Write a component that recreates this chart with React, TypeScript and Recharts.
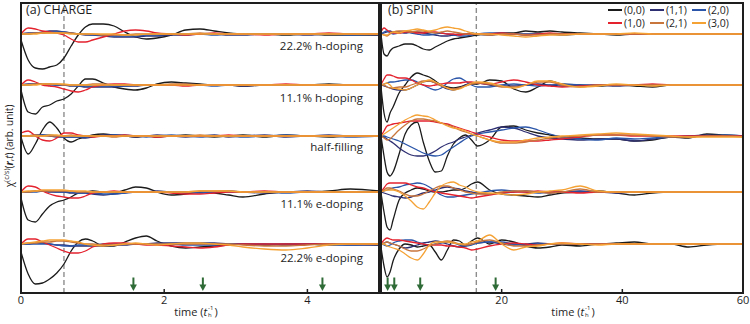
import React from 'react';
import { LineChart, Line, XAxis, YAxis, ReferenceLine, ReferenceDot } from 'recharts';

// sample times (t_h^-1)
const chargeTime = [0, 0.1, 0.2, 0.3, 0.4, 0.5, 0.6, 0.7, 0.8, 0.9, 1.0, 1.15, 1.3, 1.45, 1.6, 1.75, 1.9, 2.1, 2.3, 2.5, 2.7, 2.9, 3.1, 3.4, 3.7, 4.0, 4.3, 4.6, 5.0];
const spinTime = [0, 0.5, 1, 1.5, 2, 3, 4, 5, 6, 7, 8, 9, 10, 11, 12, 13, 14, 15, 16, 18, 20, 22, 24, 26, 28, 30, 33, 36, 39, 42, 45, 48, 51, 54, 57, 60];

const seriesNames = ['(0,0)', '(1,1)', '(2,0)', '(1,0)', '(2,1)', '(3,0)'];
const seriesColors = ['#1b1b1b', '#2e2f72', '#2a55a8', '#e4222e', '#c9763c', '#f5a235'];

const dopingLabels = ['22.2% h-doping', '11.1% h-doping', 'half-filling', '11.1% e-doping', '22.2% e-doping'];
// vertical shift of each doping curve (arb. unit)
const traceOffsets = [259, 208, 157, 101, 49];

// rows: (0,0) (1,1) (2,0) (1,0) (2,1) (3,0)
const chargeH22 = [
  [-6, -26, -34, -35, -33, -31, -24, -12, -1, 7, 10, 10, 8, 2, -3, -5, -4, -1, 4, 5, 3, 1, 0, 0, -1, 0, -1, -1, -1],
  [0, 1, 1, 2, 3, 3, 2, 1, 0, -1, -1, -2, -3, -3, -3, -2, -2, -1, -1, 0, 0, -1, -1, 0, 0, -1, 0, 0, -1],
  [0, 0, 1, 1, 2, 2, 2, 1, 0, 0, -1, -1, -2, -2, -2, -1, -1, 0, 0, 0, -1, 0, 0, 0, 0, 0, 0, -1, 0],
  [0, 6, 5, 3, 2, 1, -1, -5, -8, -8, -6, -3, 0, 3, 4, 3, 1, 0, -1, 0, 1, 0, 0, -1, 0, 0, 1, 0, 0],
  [0, 0, 1, 1, 1, 1, 1, 1, 0, 0, 0, -1, -1, -1, 0, 0, 0, 0, 0, 1, 0, 0, 0, 0, 0, 0, 0, 0, 0],
  [0, 0, 0, 1, 1, 1, 1, 0, 0, 0, 0, 0, 0, -1, -1, 0, 0, 0, 0, 0, 0, 0, 0, 0, 0, 0, 0, 0, 0],
];
const chargeH11 = [
  [-5, -27, -29, -22, -20, -16, -14, -9, -1, 6, 6, 2, -2, -4, -5, -3, 1, 3, 2, 1, 0, 0, -1, 0, 0, 0, 1, 0, 0],
  [0, 1, 1, 1, 1, 0, 0, -1, -1, -2, -2, -2, -2, -1, -1, 0, 0, 0, 1, 0, 0, 0, -1, 0, 0, 0, 0, 0, 0],
  [0, 0, 1, 1, 0, 0, 0, 0, -1, -1, -1, -1, -1, -1, 0, 0, 0, 0, 0, 0, -1, 0, 0, 0, 0, 0, 0, 0, 0],
  [0, 5, 3, 0, -1, -2, -4, -6, -7, -5, -2, 0, 1, 1, 0, 0, 0, 0, -1, 0, 0, 0, 0, 0, 1, 0, 0, 0, 0],
  [0, 0, 1, 1, 1, 1, 0, 0, 0, 0, 1, 1, 0, 0, 0, 0, 0, 1, 1, 0, 0, 0, 0, 0, 0, 0, 0, 0, 0],
  [0, 0, 0, 1, 1, 1, 1, 0, 0, 0, 0, 0, 0, 0, 0, 0, 0, 0, 0, 0, 0, 0, 0, 0, 0, 0, 0, 0, 0],
];
const chargeHalf = [
  [-1, -18, -8, 6, 14, 8, -2, -6, -3, -1, 1, 2, 1, 0, -1, 0, -1, 0, 1, 0, -1, 0, 1, -1, 1, 0, -1, 0, 0],
  [0, 0, 1, 1, 0, -1, -1, -1, -1, -2, -1, 1, 1, 0, -1, 0, 1, 0, -1, 0, 1, -1, 0, 1, -1, 0, 1, 0, 0],
  [0, 0, 0, 1, 1, 0, -1, -1, -1, -1, 0, 0, 1, 1, 0, -1, 0, 1, 0, -1, 0, 0, -1, 0, 1, 0, 0, -1, 0],
  [3, 5, 0, -4, -5, -2, 3, 3, 1, 0, -1, 0, 0, 1, 0, 0, -1, 0, 0, 0, 0, 1, 0, 0, 0, 0, 0, 0, 0],
  [0, 0, 1, 0, 0, 0, 0, 1, 0, 0, 0, 0, -1, 0, 0, 0, 0, 0, 0, 1, 0, 0, 0, 0, 0, 0, 0, 0, 0],
  [0, 0, 0, 0, 1, 1, 0, 0, 0, 0, 0, 0, 0, 0, 0, 0, 0, 0, 0, 0, 0, 0, 0, 0, 0, 0, 0, 0, 0],
];
const chargeE11 = [
  [-6, -28, -30, -22, -14, -10, -8, -5, -1, 0, 1, 0, -1, 2, 5, 4, 0, -3, -2, 0, -1, -3, -5, -2, 0, 0, 1, 3, 1],
  [0, 0, 1, 1, 0, 0, 0, -1, -1, -1, -2, -3, -2, -1, 0, 0, 1, 0, -1, 0, 0, 1, 0, -1, 0, 1, 0, 0, 0],
  [0, 0, 0, 1, 1, 0, 0, 0, -1, -1, -1, -2, -2, -1, 0, 0, 0, 0, 0, -1, 0, 0, 0, 0, -1, 0, 0, 0, 0],
  [0, 6, 5, 1, -2, -4, -5, -6, -6, -4, -1, 0, 1, 0, 0, 0, 0, -1, -2, -2, -1, 0, 0, 1, 0, 0, 0, 0, 0],
  [0, 0, 1, 1, 1, 1, 1, 1, 0, 0, 0, 0, 0, 0, 0, 0, 0, 0, 0, 1, 1, 1, 0, 0, 0, 0, 0, 0, 0],
  [0, 1, 1, 2, 2, 2, 2, 1, 1, 1, 0, 0, 0, 0, 0, 0, 0, 0, 0, 1, 1, 1, 0, 0, 0, 0, 0, 0, 0],
];
const chargeE22 = [
  [-8, -30, -40, -39, -35, -29, -20, -7, 2, 5, 3, -2, -2, 2, 6, 8, 3, -2, -4, -3, -2, -1, 0, -1, 0, 0, -1, 0, -1],
  [0, 0, 1, 1, 0, -1, -1, -2, -2, -2, -2, -2, -1, -1, 0, 0, 1, 1, 1, 1, 1, 0, 0, 0, -1, 0, 0, -1, -1],
  [0, 0, 0, 0, 0, -1, -2, -2, -1, -1, -1, 0, 0, 0, 0, 0, 0, 0, -1, -1, -1, 0, 0, 0, 0, 0, -1, -1, 0],
  [0, 5, 5, 2, -1, -4, -7, -9, -9, -7, -3, 0, 1, 1, 0, -1, -1, -2, -3, -4, -3, -1, 0, 0, 0, 0, 0, 0, 0],
  [0, 1, 1, 2, 2, 3, 3, 2, 1, 0, 0, -1, -1, 0, 0, 0, 0, 0, 0, 0, 0, 0, -1, -2, -2, -1, 0, 0, 0],
  [0, 1, 2, 3, 4, 4, 4, 3, 2, 0, -1, -2, -1, 0, 1, 0, -1, 0, 1, 1, 0, -1, -3, -5, -6, -4, -1, 0, 0],
];

const spinH22 = [
  [0, -20, -22, -17, -14, -12, -10, -10, -12, -15, -16, -13, -10, -7, -5, -4, -3, -2, -1, 0, 1, 1, 3, 2, 3, 2, 1, 0, -1, 0, 0, 0, 0, 0, 0, 0],
  [0, 1, 2, 3, 2, 2, 1, 2, 2, 1, 0, -1, -2, -2, -1, 0, 0, 1, 0, -1, 0, 0, 0, 0, 0, -1, 0, 0, 0, 0, 0, 0, 0, 0, 0, 0],
  [0, 2, 3, 1, 0, 1, 2, 1, 0, -1, -1, 0, 1, 0, -1, -2, -2, -1, 0, 1, 1, 0, -1, 0, 0, 0, 0, 0, 0, 0, 0, 0, 0, 0, 0, 0],
  [2, 6, 4, 2, 1, 1, 2, 2, 1, 1, 2, 2, 1, 0, 0, -1, 0, 0, 0, 0, 1, 0, -1, 0, 1, 0, 0, 0, 0, 0, 0, 0, 0, 0, 0, 0],
  [0, -1, -2, 0, 2, 3, 3, 2, 3, 3, 2, 1, 2, 3, 2, 1, 0, 0, 0, -1, 0, 0, -1, -1, 0, 0, 0, 0, 0, 0, 0, 0, 0, 0, 0, 0],
  [0, -1, -1, 1, 2, 1, 3, 4, 5, 4, 3, 4, 6, 7, 6, 5, 3, 1, 0, 0, -1, -2, -3, -2, -1, -1, 0, 0, 0, 1, 0, 0, 0, 0, 0, 0],
];
const spinH11 = [
  [-2, -28, -37, -28, -22, -8, 0, 8, 12, 10, 8, 4, 0, -2, -3, -2, 0, 1, 1, 5, 4, -4, -7, -2, 4, 1, 0, -1, 0, -1, -2, 0, 0, 0, 0, 0],
  [0, -1, -2, -3, -4, -5, -5, -3, 0, 3, 4, 2, -1, -4, -5, -3, 0, 2, 2, 0, -1, -1, 0, 1, 0, -1, -1, 0, -1, 0, 0, 0, 0, 0, 0, 0],
  [0, 1, 2, 3, 3, 4, 5, 5, 3, 0, -3, -5, -3, 2, 6, 7, 4, 0, -2, -2, 0, 1, 0, -1, 0, 1, 0, 0, 0, 0, 0, 0, 0, 0, 0, 0],
  [0, 6, 10, 10, 9, 7, 7, 5, 2, 0, -1, 0, 1, 2, 2, 2, 3, 3, 2, 1, 3, 5, 3, 0, -1, -2, -1, 0, 0, 0, 1, 0, 0, 0, 0, 0],
  [0, 0, -2, -3, -3, -2, -2, 0, 2, 4, 4, 2, -1, -3, -4, -3, -1, 1, 2, 1, -2, -2, 0, 3, 3, 0, -2, 0, 0, 0, 0, 0, 0, 0, 0, 0],
  [0, 1, 2, 0, -3, -4, -5, -3, 0, 3, 5, 3, 0, -3, -5, -4, -1, 2, 3, 2, -1, -3, 0, 4, 4, 1, -2, -1, 1, 0, -1, 0, 0, 0, 0, 0],
];
const spinHalf = [
  [0, -20, -36, -40, -36, -18, 2, 11, 14, -6, -25, -36, -35, -20, -8, -2, 1, -4, -10, -4, 9, 10, 6, 3, 1, -1, -2, -3, -3, -5, -4, -1, -2, 2, 1, 0],
  [0, -1, -3, -5, -7, -12, -16, -19, -20, -20, -18, -15, -11, -8, -6, -3, -1, 1, 3, 6, 9, 8, 4, 0, -2, -3, -4, -3, -3, -5, -3, -1, 0, 1, 0, 0],
  [0, 0, -1, -2, -3, -5, -8, -11, -14, -17, -19, -20, -19, -15, -11, -7, -3, 0, 2, 4, 6, 8, 9, 6, 2, -1, -3, -4, -2, -3, -2, -1, 0, 0, 1, 0],
  [0, 5, 10, 11, 12, 13, 14, 15, 15, 15, 15, 14, 13, 12, 10, 8, 6, 4, 2, -1, -4, -5, -5, -5, -4, -3, -1, 1, 1, 0, 0, 0, 0, 0, 0, 0],
  [0, -2, -4, -3, 0, 6, 11, 15, 17, 17, 16, 15, 13, 11, 9, 6, 4, 2, 0, -4, -7, -7, -6, -4, -2, -1, 0, 1, 1, 1, 0, -1, -1, 0, 0, -1],
  [0, 2, 4, 6, 8, 12, 16, 19, 21, 20, 19, 16, 13, 10, 8, 7, 5, 2, 0, -4, -6, -6, -4, -2, -1, 0, 1, 2, 3, 2, 1, 0, -1, -1, -1, -1],
];
const spinE11 = [
  [-1, -20, -35, -38, -28, -8, -1, 2, 4, 3, 1, 0, 0, 1, 2, 2, 4, 8, 10, 2, -2, -3, -4, -5, -3, -1, 0, 1, -1, -3, -1, 0, 0, 0, 0, 0],
  [0, -1, -2, -3, -4, -5, -6, -5, -3, -1, 0, 2, 4, 5, 4, 3, 1, 0, -1, -2, -1, 0, 1, 0, -1, 0, 1, 0, -1, 0, 0, 0, 0, 0, 0, 0],
  [0, 1, 2, 3, 4, 5, 7, 8, 9, 8, 5, 1, -3, -5, -5, -4, -3, -2, -1, 1, 2, 1, 0, -1, 0, 0, 0, 0, 0, 0, 0, 0, 0, 0, 0, 0],
  [0, 4, 8, 9, 9, 9, 9, 7, 5, 4, 2, 0, -1, -2, -3, -4, -5, -6, -5, -3, -1, 0, 0, 1, 0, 0, -1, 0, 0, 0, 0, 0, 0, 0, 0, 0],
  [0, 2, 4, 4, 3, 1, -2, -4, -4, -2, 1, 4, 6, 6, 4, 2, 0, -1, -2, -2, 0, 1, 1, 0, -1, 0, 3, 0, 0, 0, 0, 0, 0, 0, 0, 0],
  [0, 1, 2, 2, 2, 0, -4, -9, -15, -17, -10, -1, 6, 9, 10, 7, 5, 2, 0, -1, -2, -3, -2, 0, 1, 2, 6, 1, 0, 0, 0, 0, 0, 0, 0, 0],
];
const spinE22 = [
  [-3, -22, -33, -28, -17, -5, 0, -1, -3, -2, -1, -8, -16, -6, 4, 3, -1, 3, 6, 0, 4, 2, -2, -4, -3, -1, -2, 0, 1, 2, 0, 0, -3, -1, 0, 0],
  [0, 1, 2, 1, 0, -2, -4, -3, -1, 1, 2, 3, 2, 0, -2, -3, -2, 0, 1, 2, 0, -1, 0, 1, 0, 0, 0, 0, 0, 0, 0, 0, 0, 0, 0, 0],
  [0, -1, -2, -1, 1, 3, 4, 4, 2, 0, -1, 0, 1, 2, 1, -1, -2, -1, 1, 2, 2, 0, -1, 0, 0, 0, 0, 0, 0, 0, 0, 0, 0, 0, 0, 0],
  [0, 4, 6, 5, 4, 4, 3, 2, 1, 0, -1, -1, -1, -2, -2, -3, -4, -6, -5, -2, 0, 1, 0, -1, 0, 1, 0, 0, 0, 0, 0, 0, 0, 0, 0, 0],
  [0, 1, 2, 1, 0, -2, -5, -7, -7, -5, -2, 0, 2, 3, 2, 0, -1, 0, 2, 4, 1, -2, -2, -1, 0, 0, 0, 0, 0, 0, 0, 0, 0, 0, 0, 0],
  [0, 0, -2, -3, -4, -6, -10, -14, -16, -10, -1, 2, 2, 2, 1, 0, 0, 2, 3, 9, 0, -6, -3, -2, 0, 1, 0, -1, 0, 0, 0, 0, 0, 0, 0, 0],
];

const chargeTraces = [chargeH22, chargeH11, chargeHalf, chargeE11, chargeE22];
const spinTraces = [spinH22, spinH11, spinHalf, spinE11, spinE22];

const chargeTicks = [0, 2, 4];
const spinTicks = [0, 20, 40, 60];
const chargeArrows = [1.57, 2.54, 4.21];
const spinArrows = [1.1, 2.2, 6.5, 19];
const chargeCut = 0.6;
const spinCut = 15.8;

const FONT = '"Open Sans", "Noto Sans", sans-serif';
const INK = '#1e1e1e';

function buildRows(time: number[], traces: number[][][]) {
  return time.map((t, i) => {
    const row: Record<string, number> = { t };
    traces.forEach((trace, k) => {
      trace.forEach((vals, s) => {
        row[`k${k}s${s}`] = traceOffsets[k] + vals[i];
      });
    });
    return row;
  });
}

const Arrow = (props: any) => {
  const { cx, cy } = props;
  return (
    <g>
      <line x1={cx} y1={cy - 7} x2={cx} y2={cy + 1} stroke="#2f6b36" strokeWidth={2} />
      <path d={`M${cx - 3.5},${cy} L${cx + 3.5},${cy} L${cx},${cy + 6.5} Z`} fill="#2f6b36" />
    </g>
  );
};

interface PanelProps {
  width: number;
  margin: { top: number; right: number; bottom: number; left: number };
  time: number[];
  traces: number[][][];
  domain: [number, number];
  ticks: number[];
  cut: number;
  arrows: number[];
}

const Panel = ({ width, margin, time, traces, domain, ticks, cut, arrows }: PanelProps) => {
  const rows = buildRows(time, traces);
  return (
    <LineChart width={width} height={324} data={rows} margin={margin}>
      <XAxis
        xAxisId="top"
        orientation="top"
        dataKey="t"
        type="number"
        domain={domain}
        ticks={ticks}
        height={1}
        tick={false}
        tickSize={-4}
        axisLine={false}
        tickLine={{ stroke: INK, strokeWidth: 1.5 }}
      />
      <XAxis
        dataKey="t"
        type="number"
        domain={domain}
        ticks={ticks}
        height={31}
        tickSize={-4}
        tickMargin={7}
        axisLine={false}
        tickLine={{ stroke: INK, strokeWidth: 1.5 }}
        tick={{ fill: INK, fontSize: 11, fontFamily: FONT }}
      />
      <YAxis type="number" domain={[0, 290]} hide />
      <ReferenceLine x={cut} stroke="#8d8d8d" strokeDasharray="5 3" strokeWidth={1.4} />
      {traces.map((trace, k) =>
        trace.map((_, s) => (
          <Line
            key={`k${k}s${s}`}
            dataKey={`k${k}s${s}`}
            type="monotone"
            stroke={seriesColors[s]}
            strokeWidth={1.3}
            dot={false}
            isAnimationActive={false}
          />
        ))
      )}
      {arrows.map((a) => (
        <ReferenceDot key={a} x={a} y={8.5} r={0} shape={Arrow} />
      ))}
    </LineChart>
  );
};

const TimeLabel = ({ center }: { center: number }) => (
  <div
    style={{
      position: 'absolute',
      left: center,
      top: 305,
      transform: 'translateX(-50%)',
      fontSize: 11,
      whiteSpace: 'nowrap',
      color: INK,
      lineHeight: '14px',
      display: 'flex',
      alignItems: 'center',
    }}
  >
    <span>time (</span>
    <i>t</i>
    <span style={{ display: 'inline-flex', flexDirection: 'column', fontSize: 6, lineHeight: '7px', margin: '0 1px' }}>
      <span>-1</span>
      <span>h</span>
    </span>
    <span>)</span>
  </div>
);

export default function App() {
  return (
    <div style={{ position: 'absolute', left: 0, top: 0, width: 750, height: 324, fontFamily: FONT, background: '#fff' }}>
      <div style={{ position: 'absolute', left: 0, top: 0 }}>
        <Panel
          width={380}
          margin={{ top: 2, right: 1, bottom: 0, left: 21 }}
          time={chargeTime}
          traces={chargeTraces}
          domain={[0, 5]}
          ticks={chargeTicks}
          cut={chargeCut}
          arrows={chargeArrows}
        />
      </div>
      <div style={{ position: 'absolute', left: 380, top: 0 }}>
        <Panel
          width={370}
          margin={{ top: 2, right: 7, bottom: 0, left: 1 }}
          time={spinTime}
          traces={spinTraces}
          domain={[0, 60]}
          ticks={spinTicks}
          cut={spinCut}
          arrows={spinArrows}
        />
      </div>

      {/* frames */}
      <div style={{ position: 'absolute', left: 20, top: 2, width: 360, height: 292, border: `2px solid ${INK}`, boxSizing: 'border-box' }} />
      <div style={{ position: 'absolute', left: 380, top: 2, width: 364, height: 292, border: `2px solid ${INK}`, boxSizing: 'border-box' }} />

      {/* panel titles */}
      <div style={{ position: 'absolute', left: 26, top: 2, fontSize: 12.5, color: INK, lineHeight: '16px' }}>(a) CHARGE</div>
      <div style={{ position: 'absolute', left: 388, top: 2, fontSize: 12.5, color: INK, lineHeight: '16px' }}>(b) SPIN</div>

      {/* doping labels */}
      {dopingLabels.map((label, k) => (
        <div
          key={label}
          style={{
            position: 'absolute',
            right: 750 - 363,
            top: [46, 98, 147, 204, 258][k] - 8,
            fontSize: 11.5,
            color: INK,
            lineHeight: '16px',
            whiteSpace: 'nowrap',
          }}
        >
          {label}
        </div>
      ))}

      {/* legend */}
      {seriesNames.map((name, i) => {
        const col = i % 3;
        const row = Math.floor(i / 3);
        return (
          <div key={name} style={{ position: 'absolute', left: 608 + col * 42, top: 4 + row * 13, display: 'flex', alignItems: 'center', fontSize: 10.5, color: INK, lineHeight: '12px' }}>
            <span style={{ display: 'inline-block', width: 14, height: 2, background: seriesColors[i], marginRight: 2 }} />
            <span>{name}</span>
          </div>
        );
      })}

      {/* y label */}
      <div
        style={{
          position: 'absolute',
          left: 9,
          top: 146,
          transform: 'translate(-50%, -50%) rotate(-90deg)',
          fontSize: 10,
          whiteSpace: 'nowrap',
          color: INK,
        }}
      >
        χ<sup style={{ fontSize: 7 }}>(c/s)</sup>(<b><i>r</i></b>,<i>t</i>) (arb. unit)
      </div>

      <TimeLabel center={196} />
      <TimeLabel center={573} />
    </div>
  );
}
